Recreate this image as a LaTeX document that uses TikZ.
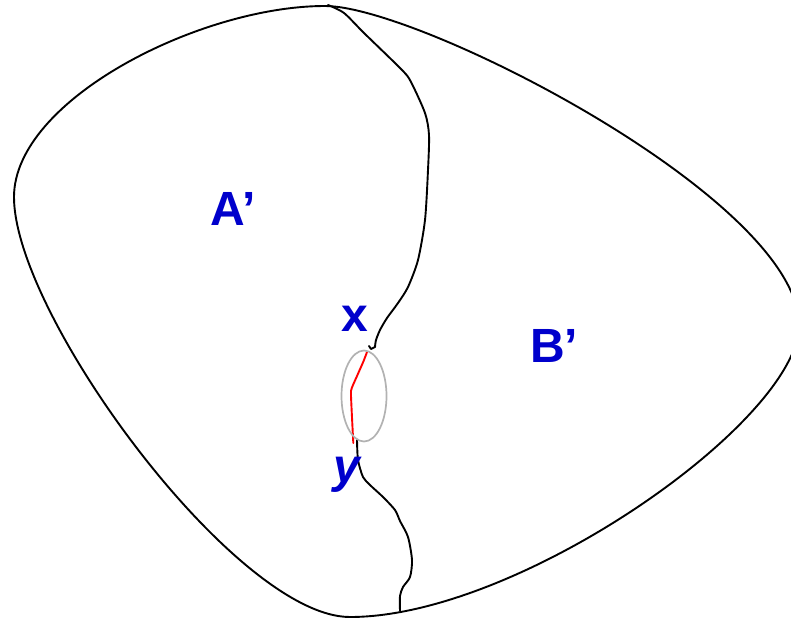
\documentclass[tikz,border=0pt]{standalone}
\usepackage{fontspec}
\usetikzlibrary{shapes.geometric}
\setmainfont{Liberation Sans}
\definecolor{lblblue}{RGB}{0,0,204}
\definecolor{ellgray}{RGB}{178,178,178}
\tikzset{
  curve/.style={line width=1.9pt, black, line join=round, line cap=round},
  redcurve/.style={line width=1.9pt, red, line cap=round},
  lens/.style={line width=1.7pt, ellgray},
  lbl/.style={inner sep=0pt, text=lblblue, font=\fontsize{48}{48}\selectfont\bfseries},
}
\begin{document}
\begin{tikzpicture}[x=1pt,y=-1pt]
\useasboundingbox (0,0) rectangle (791,618);
% outer boundary
\coordinate (T) at (325,6);
\coordinate (L) at (14,197);
\coordinate (Bo) at (350,617);
\coordinate (R) at (799,325);
\draw[curve] (T) .. controls (200,6) and (14,100) .. (L)
  .. controls (14,315) and (236,617) .. (Bo)
  .. controls (520,617) and (799,420) .. (R)
  .. controls (799,200) and (420,6) .. (T) -- cycle;
% upper divider
\draw[curve] plot[smooth, tension=0.45] coordinates {
 (328,5) (344,13) (364,33) (402,70) (411,82) (425,113) (429,135) (428,170)
 (425,220) (418,260) (408,287) (398,303) (387,318) (380,330) (376,340) (375,347)}
 -- (371,349) -- (369,346);
% lower divider
\draw[curve] plot[smooth, tension=0.45] coordinates {
 (357,440) (358,460) (363,477) (370,485) (383,497) (395,510) (400,521)
 (408,537) (412,560) (410,577) (403,587) (400,596) (400,611)};
% red path
\draw[redcurve] plot[smooth, tension=0.4] coordinates {
 (367,352) (363.3,361.7) (356.7,376.7) (351.7,388.3) (351,396) (353.3,443)};
% grey ellipse
\node[lens, draw, ellipse, minimum width=45pt, minimum height=91pt, inner sep=0pt] (ell) at (364,396) {};
% labels
\node[lbl, anchor=base west] (A) at (210,225) {A’};
\node[lbl, anchor=base west] (B) at (530,362) {B’};
\node[lbl, anchor=base west] (X) at (341,331) {x};
\node[lbl, anchor=base west, font=\fontsize{48}{48}\selectfont\bfseries\itshape] (Y) at (333,482) {y};
\end{tikzpicture}
\end{document}
